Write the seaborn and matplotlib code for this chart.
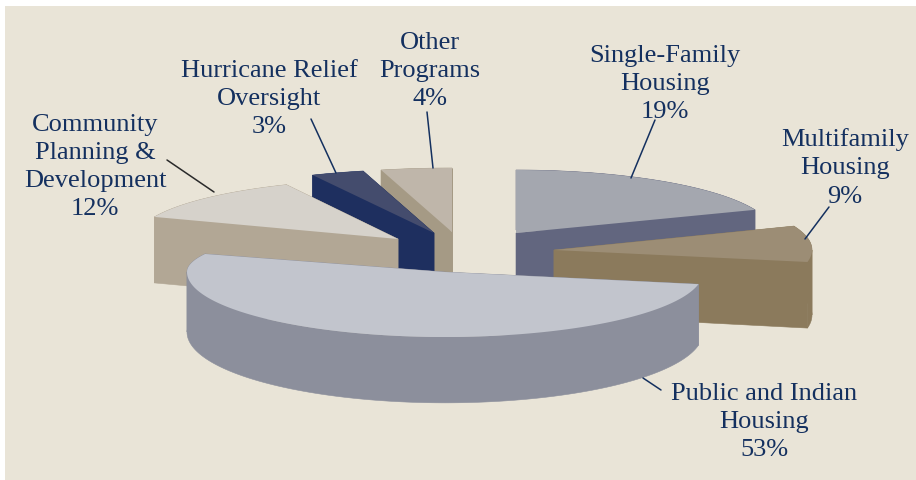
import numpy as np
import seaborn as sns
import matplotlib.pyplot as plt

# budget share per program, clockwise from 12 o'clock
programs = ['Single-Family\nHousing', 'Multifamily\nHousing', 'Public and Indian\nHousing',
            'Community\nPlanning &\nDevelopment', 'Hurricane Relief\nOversight', 'Other\nPrograms']
shares = [19, 9, 53, 12, 3, 4]

# look of the 3D slices (picture pixels)
apex_x = [516, 554, 445, 398, 434, 452]
apex_y = [234, 251, 273, 240, 234, 233]
radius_x = [257, 258, 258, 262, 285, 285]
radius_back = [63, 65, 49, 60, 64, 64]
radius_front = [63, 64, 65, 60, 64, 64]
depth = [60, 65, 60, 66, 62, 62]
top_colors = ['#A4A7AF', '#9C8D75', '#C2C5CD', '#D6D2CB', '#444C6D', '#BFB6AA']
side_colors = ['#62667F', '#8B7A5C', '#8C8F9C', '#B2A795', '#1E2F5F', '#A59A85']

label_x = [665, 845, 764, 95, 269, 430]
label_y = [84, 168, 422, 167, 99, 71]
leader_x = [[655, 631], [829, 805], [643, 661], [167, 214], [311, 336], [427, 433]]
leader_y = [[121, 179], [208, 240], [379, 391], [161, 193], [120, 174], [113, 169]]
leader_colors = ['#14305F', '#14305F', '#14305F', '#2A2A2A', '#14305F', '#14305F']

draw_order = [5, 4, 3, 0, 1, 2]
bg = '#E9E4D7'
text_color = '#14305F'

sns.set_theme(style='white')
plt.rcParams['font.family'] = ['Liberation Serif', 'DejaVu Serif']

fig = plt.figure(figsize=(9.16, 4.81), dpi=100, facecolor='white')
ax = fig.add_axes([5 / 916, 0, 911 / 916, 474 / 481], facecolor=bg)
ax.set_xlim(5, 916)
ax.set_ylim(481, 7)
ax.set_xticks([])
ax.set_yticks([])
sns.despine(ax=ax, left=True, bottom=True)

# slice edges in degrees clockwise from north
edges = np.cumsum([0] + shares) / sum(shares) * 360


def rim(i, drop=0.0, stretch=1.0):
    theta = np.radians(np.linspace(edges[i], edges[i + 1], 240))
    ry = np.where(np.cos(theta) > 0, radius_back[i], radius_front[i] * stretch)
    x = apex_x[i] + radius_x[i] * np.sin(theta)
    y = apex_y[i] + drop - ry * np.cos(theta)
    return x, y


for i in draw_order:
    x_top, y_top = rim(i)
    # bottom rim opens a little wider, the front of the pie is closer
    x_low, y_low = rim(i, depth[i], 1.09)
    c = side_colors[i]
    # outer wall: one band per stretch where x keeps going the same way
    turns = np.where(np.diff(np.sign(np.diff(x_top))) != 0)[0] + 1
    cuts = [0] + list(turns) + [len(x_top) - 1]
    for a, b in zip(cuts[:-1], cuts[1:]):
        ax.fill(np.r_[x_top[a:b + 1], x_low[a:b + 1][::-1]],
                np.r_[y_top[a:b + 1], y_low[a:b + 1][::-1]],
                color=c, lw=0.4)
    for k in [0, -1]:
        ax.fill([apex_x[i], x_top[k], x_low[k], apex_x[i]],
                [apex_y[i], y_top[k], y_low[k], apex_y[i] + depth[i]],
                color=c, lw=0.4)
    ax.fill(np.r_[apex_x[i], x_top], np.r_[apex_y[i], y_top], color=top_colors[i], lw=0)

for i, name in enumerate(programs):
    sns.lineplot(x=leader_x[i], y=leader_y[i], ax=ax, color=leader_colors[i], lw=1.1,
                 sort=False, estimator=None)
    ax.text(label_x[i], label_y[i], f'{name}\n{shares[i]}%', ha='center', va='center',
            fontsize=19, color=text_color, linespacing=1.37)

fig.savefig('out.png', dpi=100, facecolor='white')
